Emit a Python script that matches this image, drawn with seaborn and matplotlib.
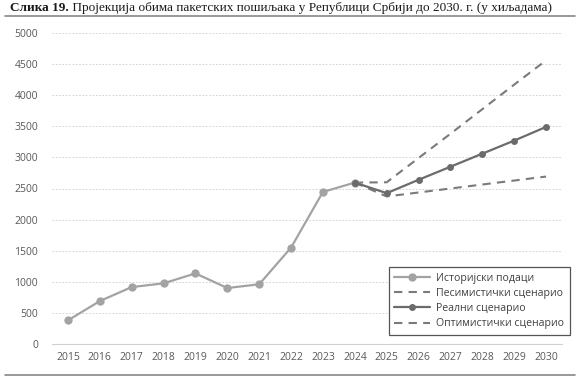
import matplotlib
matplotlib.use("Agg")
import matplotlib.pyplot as plt
import seaborn as sns
import pandas as pd
from matplotlib.lines import Line2D

# Data (thousands)
hist_years = [2015, 2016, 2017, 2018, 2019, 2020, 2021, 2022, 2023, 2024]
hist_vals = [380, 690, 915, 975, 1135, 900, 960, 1550, 2445, 2595]
proj_years = [2024, 2025, 2026, 2027, 2028, 2029, 2030]
real_vals = [2595, 2425, 2640, 2850, 3060, 3270, 3490]
pess_vals = [2595, 2372, 2436, 2500, 2564, 2628, 2692]
opt_vals = [2595, 2600, 2990, 3380, 3775, 4170, 4560]
years_all = list(range(2015, 2031))
yticks = [0, 500, 1000, 1500, 2000, 2500, 3000, 3500, 4000, 4500, 5000]

labels = ["Историјски подаци", "Песимистички сценарио", "Реални сценарио", "Оптимистички сценарио"]
title_bold = "Слика 19."
title_rest = " Пројекција обима пакетских пошиљака у Републици Србији до 2030. г. (у хиљадама)"

sns.set_theme(style="white")
plt.rcParams["font.family"] = ["Open Sans", "DejaVu Sans"]

fig = plt.figure(figsize=(5.87, 3.84), dpi=100)
ax = fig.add_axes([52/587, 1-344/384, (562-52)/587, (344-33)/384])

c_hist = "#a3a3a3"
c_real = "#6b6b6b"
c_dash = "#7a7a7a"

df_h = pd.DataFrame({"year": hist_years, "v": hist_vals})
df_r = pd.DataFrame({"year": proj_years, "v": real_vals})
df_p = pd.DataFrame({"year": proj_years, "v": pess_vals})
df_o = pd.DataFrame({"year": proj_years, "v": opt_vals})

sns.lineplot(data=df_p, x="year", y="v", ax=ax, color=c_dash, lw=1.5,
             linestyle=(0, (4, 3)), zorder=3)
sns.lineplot(data=df_o, x="year", y="v", ax=ax, color=c_dash, lw=1.5,
             linestyle=(0, (4, 3)), zorder=3)
sns.lineplot(data=df_h, x="year", y="v", ax=ax, color=c_hist, lw=1.6,
             marker="o", markersize=6, markeredgewidth=0, zorder=4)
sns.lineplot(data=df_r, x="year", y="v", ax=ax, color=c_real, lw=1.6,
             marker="o", markersize=5, markeredgewidth=0, zorder=5)

ax.set_xlim(2014.5, 2030.5)
ax.set_ylim(0, 5000)
ax.set_xticks(years_all)
ax.set_xticklabels([str(y) for y in years_all])
ax.set_yticks(yticks)
ax.set_xlabel("")
ax.set_ylabel("")
ax.yaxis.grid(True, color="#cccccc", linestyle=(0, (2, 2)), lw=0.6)
ax.xaxis.grid(False)
for s in ["top", "right", "left"]:
    ax.spines[s].set_visible(False)
ax.spines["bottom"].set_color("#d0d0d0")
ax.spines["bottom"].set_linewidth(0.8)
ax.tick_params(axis="both", length=0, labelsize=7.5, labelcolor="#595959", pad=6)
ax.tick_params(axis="y", pad=10)

handles = [
    Line2D([], [], color=c_hist, lw=1.6, marker="o", markersize=6, markeredgewidth=0),
    Line2D([], [], color=c_dash, lw=1.5, linestyle=(0, (4, 3))),
    Line2D([], [], color=c_real, lw=1.6, marker="o", markersize=5, markeredgewidth=0),
    Line2D([], [], color=c_dash, lw=1.5, linestyle=(0, (4, 3))),
]
leg = ax.legend(handles, labels, loc="upper right",
                bbox_to_anchor=(575/587, 1-262/384), bbox_transform=fig.transFigure,
                fontsize=7.6, frameon=True, fancybox=False, handlelength=3.4,
                borderpad=0.5, labelspacing=0.4, handletextpad=0.6, markerfirst=True)
leg.get_frame().set_edgecolor("#555555")
leg.get_frame().set_linewidth(0.9)
leg.get_frame().set_facecolor("white")
leg.get_frame().set_alpha(1)
for t in leg.get_texts():
    t.set_color("#404040")

# Title
serif = ["Liberation Serif", "DejaVu Serif"]
t1 = fig.text(10/587, 1-8/384, title_bold, fontsize=9.5, fontweight="bold",
              family=serif, va="center", ha="left", color="#1a1a1a")
fig.canvas.draw()
bb = t1.get_window_extent()
fig.text(bb.x1/fig.dpi/5.87, 1-8/384, title_rest, fontsize=9.5,
         family=serif, va="center", ha="left", color="#1a1a1a")
fig.add_artist(Line2D([5/587, 575/587], [1-15.5/384, 1-15.5/384], color="#888888", lw=1.2,
                      transform=fig.transFigure))
fig.add_artist(Line2D([5/587, 575/587], [1-375/384, 1-375/384], color="#888888", lw=1.2,
                      transform=fig.transFigure))

fig.savefig("out.png", dpi=100)
